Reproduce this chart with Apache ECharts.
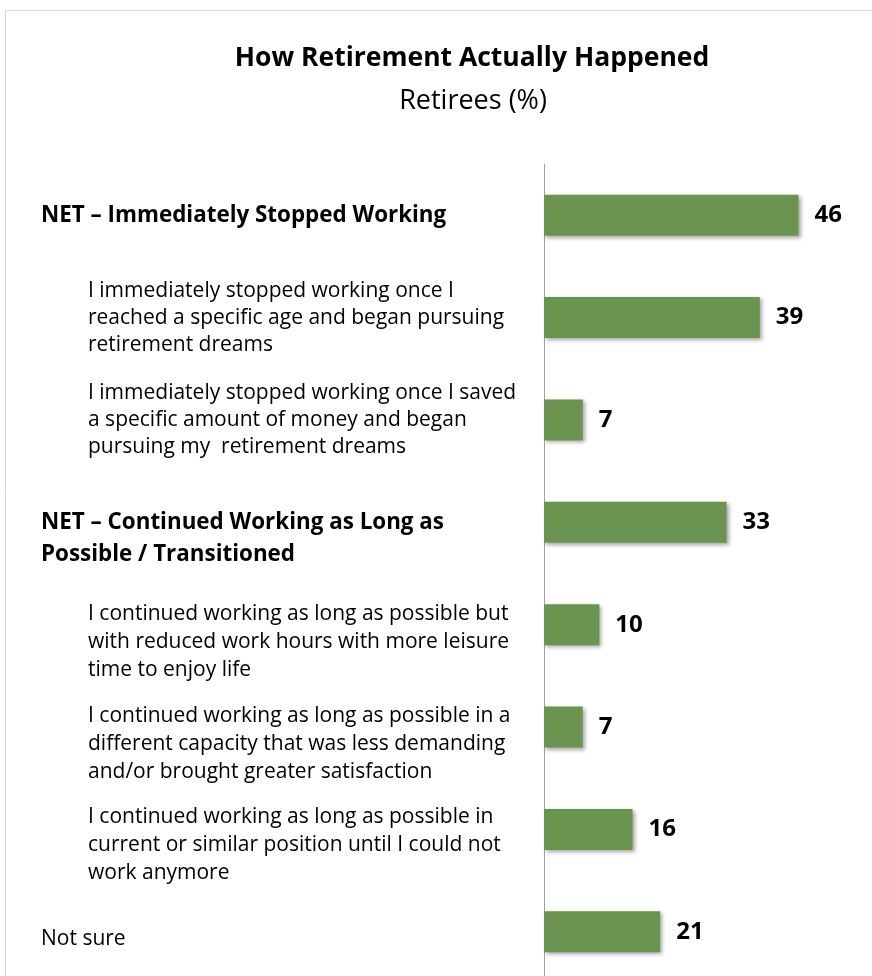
<!DOCTYPE html>
<html>
<head>
<meta charset="utf-8">
<script src="https://cdn.jsdelivr.net/npm/echarts@6/dist/echarts.min.js"></script>
<style>
html,body{margin:0;padding:0;background:#fff;}
#chart{width:872px;height:976px;}
</style>
</head>
<body>
<div id="chart"></div>
<script>
const chartTitle = 'How Retirement Actually Happened';
const chartSubtitle = 'Retirees (%)';
const categories = [
  'NET – Immediately Stopped Working',
  'I immediately stopped working once I\nreached a specific age and began pursuing\nretirement dreams',
  'I immediately stopped working once I saved\na specific amount of money and began\npursuing my  retirement dreams',
  'NET – Continued Working as Long as\nPossible / Transitioned',
  'I continued working as long as possible but\nwith reduced work hours with more leisure\ntime to enjoy life',
  'I continued working as long as possible in a\ndifferent capacity that was less demanding\nand/or brought greater satisfaction',
  'I continued working as long as possible in\ncurrent or similar position until I could not\nwork anymore',
  'Not sure'
];
const values = [46, 39, 7, 33, 10, 7, 16, 21];

// label presentation (style only): bold flag, left indent, downward shift, line height
const labelLook = [
  { bold: true,  indent: 0,  shift: 2,  lh: 30 },
  { bold: false, indent: 47, shift: 0,  lh: 27 },
  { bold: false, indent: 47, shift: 0,  lh: 27 },
  { bold: true,  indent: 0,  shift: 16, lh: 32 },
  { bold: false, indent: 47, shift: 17, lh: 28 },
  { bold: false, indent: 47, shift: 17, lh: 28 },
  { bold: false, indent: 47, shift: 16, lh: 28 },
  { bold: false, indent: 0,  shift: 7,  lh: 27 }
];

const FONT = 'Open Sans';
const richFor = (i) => ({
  sp: { lineHeight: Math.max(1, labelLook[i].shift * 2), height: Math.max(1, labelLook[i].shift * 2), fontSize: 1 },
  t: {
    fontFamily: FONT, color: '#000',
    fontSize: labelLook[i].bold ? 22.4 : 21,
    fontWeight: labelLook[i].bold ? 'bold' : 'normal',
    lineHeight: labelLook[i].lh
  }
});
const chart = echarts.init(document.getElementById('chart'));
chart.setOption({
  backgroundColor: '#ffffff',
  animation: false,
  graphic: [{
    type: 'rect', silent: true, z: -10,
    shape: { x: 5.5, y: 10.5, width: 1000, height: 1000 },
    style: { fill: 'none', stroke: '#d9d9d9', lineWidth: 1 }
  }],
  title: [
    { text: chartTitle, left: 472, top: 45, padding: 0, textAlign: 'center',
      textStyle: { fontFamily: FONT, fontWeight: 'bold', fontSize: 26.5, color: '#000' } },
    { text: chartSubtitle, left: 473, top: 88, padding: 0, textAlign: 'center',
      textStyle: { fontFamily: FONT, fontWeight: 'normal', fontSize: 27, color: '#000' } }
  ],
  grid: { left: 544, right: -4, top: 164, bottom: -7, containLabel: false, outerBoundsMode: 'none' },
  xAxis: { type: 'value', min: 0, max: 60, show: false },
  yAxis: {
    type: 'category', inverse: true,
    data: categories.map((c, i) => ({
      value: c,
      textStyle: {
        align: 'left',
        fontFamily: FONT, fontSize: 21, color: '#000',
        padding: [0, 0, 0, labelLook[i].indent],
        rich: richFor(i)
      }
    })),
    axisLine: { show: true, lineStyle: { color: '#a0a0a0', width: 1 } },
    axisTick: { show: false },
    splitLine: { show: false },
    axisLabel: {
      interval: 0, align: 'left', margin: 503,
      fontFamily: FONT, fontSize: 21, color: '#000',
      formatter: (value, index) => {
        const lines = String(value).split('\n').map(l => '{t|' + l + '}');
        const pre = labelLook[index].shift > 2 ? '{sp| }\n' : '';
        return pre + lines.join('\n');
      }
    }
  },
  series: [{
    type: 'bar',
    data: values,
    barWidth: '40%',
    itemStyle: {
      color: '#6a9450',
      shadowColor: 'rgba(0,0,0,0.35)', shadowBlur: 4, shadowOffsetX: 2, shadowOffsetY: 2
    },
    label: {
      show: true, position: 'right', distance: 16,
      fontFamily: FONT, fontWeight: 'bold', fontSize: 24, color: '#000'
    }
  }]
});
</script>
</body>
</html>
